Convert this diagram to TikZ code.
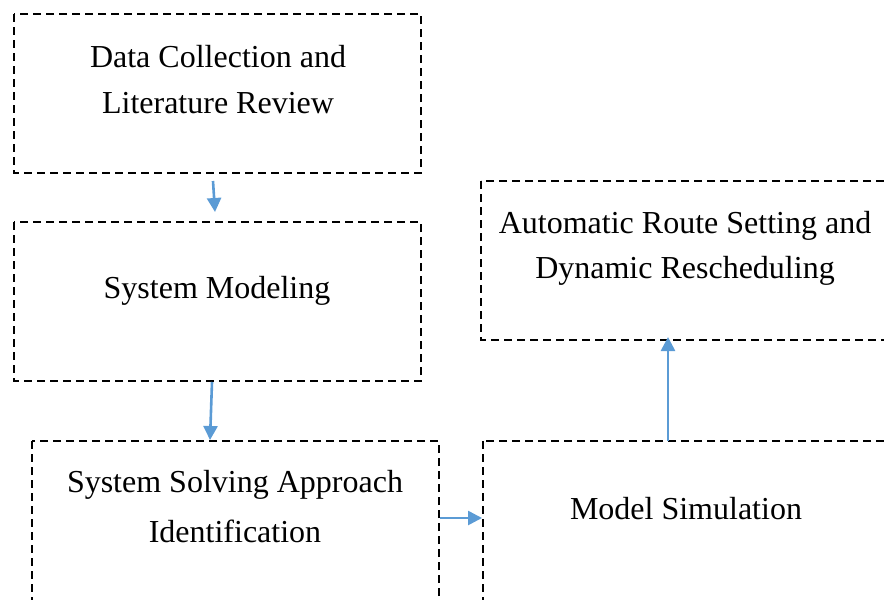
\documentclass[tikz,border=0pt]{standalone}
\usepackage{fontspec}
\setmainfont{Liberation Serif}
\usetikzlibrary{arrows.meta}
\definecolor{arrowblue}{HTML}{5B9BD5}
\tikzset{
  x=1pt,y=-1pt,
  dbox/.style={draw=black,line width=2.6pt,dash pattern=on 8pt off 5pt},
  lbl/.style={font=\fontsize{32}{44}\selectfont,inner sep=0pt,anchor=center},
  flow/.style={draw=arrowblue,line width=2.6pt,-{Triangle[length=14pt,width=14pt]}}
}
\begin{document}
\begin{tikzpicture}
\useasboundingbox (0,0) rectangle (884,600);
\clip (0,0) rectangle (884,600);
% boxes
\path[dbox] (14,14) rectangle (421,173);
\path[dbox] (14,222) rectangle (421,381);
\path[dbox] (32,441) rectangle (439,640);
\path[dbox] (483,441) rectangle (920,640);
\path[dbox] (481,181) rectangle (920,340);
% labels
\node[lbl] (t1a) at (218,57) {Data Collection and};
\node[lbl] (t1b) at (218,103) {Literature Review};
\node[lbl] (t2) at (217,291) {System Modeling};
\node[lbl] (t3a) at (235,485) {System Solving Approach};
\node[lbl] (t3b) at (235,531) {Identification};
\node[lbl] (t4) at (686,509) {Model Simulation};
\node[lbl] (t5a) at (685,226) {Automatic Route Setting and};
\node[lbl] (t5b) at (685,271) {Dynamic Rescheduling};
% connector anchors
\coordinate (a1s) at (213,181);
\coordinate (a1e) at (215,212);
\coordinate (a2s) at (212,382);
\coordinate (a2e) at (210,440);
\coordinate (a3s) at (440,518);
\coordinate (a3e) at (482,518);
\coordinate (a4s) at (668,441);
\coordinate (a4e) at (668,337);
\draw[flow] (a1s) -- (a1e);
\draw[flow] (a2s) -- (a2e);
\draw[flow] (a3s) -- (a3e);
\draw[flow] (a4s) -- (a4e);
\end{tikzpicture}
\end{document}
